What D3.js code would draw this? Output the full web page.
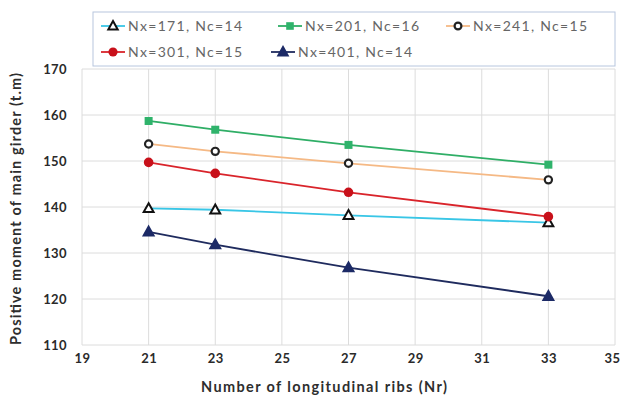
<!DOCTYPE html>
<html>
<head>
<meta charset="utf-8">
<script src="https://cdn.jsdelivr.net/npm/d3@7"></script>
<style>
  body { margin: 0; background: #fff; }
  svg { display: block; font-family: Lato, "Open Sans", sans-serif; }
</style>
</head>
<body>
<svg id="chart" width="621" height="407"></svg>
<script>
// Data
const ribs = [21, 23, 27, 33];
const xTicks = [19, 21, 23, 25, 27, 29, 31, 33, 35];
const yTicks = [110, 120, 130, 140, 150, 160, 170];

const nx171 = [139.7, 139.4, 138.2, 136.6];
const nx201 = [158.7, 156.8, 153.5, 149.2];
const nx241 = [153.7, 152.1, 149.5, 145.9];
const nx301 = [149.7, 147.3, 143.2, 137.9];
const nx401 = [134.6, 131.8, 126.8, 120.6];

const seriesNames = ["Nx=171, Nc=14", "Nx=201, Nc=16", "Nx=241, Nc=15", "Nx=301, Nc=15", "Nx=401, Nc=14"];

const series = [
    { name: seriesNames[0], values: nx171, line: "#39c6e6", marker: "triOpen", mColor: "#111" },
    { name: seriesNames[1], values: nx201, line: "#2fae66", marker: "square", mColor: "#2fb36b" },
    { name: seriesNames[2], values: nx241, line: "#f5b985", marker: "circleOpen", mColor: "#222" },
    { name: seriesNames[3], values: nx301, line: "#d9242b", marker: "circle", mColor: "#c8101a" },
    { name: seriesNames[4], values: nx401, line: "#1f2b5e", marker: "triFilled", mColor: "#1c2a66" },
];

const margin = { top: 69, right: 6, bottom: 62, left: 82 };
const width = 621, height = 407;

const $svg = d3.select("#chart");

const x = d3.scaleLinear()
  .domain([19, 35])
  .range([margin.left, width - margin.right]);

const y = d3.scaleLinear()
  .domain([110, 170])
  .range([height - margin.bottom, margin.top]);

// Grid
const $grid = $svg.append("g");
$grid.selectAll("line.v")
  .data(xTicks)
  .join("line")
    .attr("class", "v")
    .attr("x1", d => x(d)).attr("x2", d => x(d))
    .attr("y1", y(170)).attr("y2", y(110))
    .attr("stroke", "#dcdcdc");
$grid.selectAll("line.h")
  .data(yTicks)
  .join("line")
    .attr("class", "h")
    .attr("x1", x(19)).attr("x2", x(35))
    .attr("y1", d => y(d)).attr("y2", d => y(d))
    .attr("stroke", "#dcdcdc");

// Axes (labels only)
const xAxis = d3.axisBottom(x).tickValues(xTicks).tickSize(0).tickPadding(9);
const yAxis = d3.axisLeft(y).tickValues(yTicks).tickSize(0).tickPadding(15);

const $xAxis = $svg.append("g")
  .attr("transform", `translate(0,${y(110)})`)
  .call(xAxis);
const $yAxis = $svg.append("g")
  .attr("transform", `translate(${x(19)},0)`)
  .call(yAxis);

[$xAxis, $yAxis].forEach($a => {
    $a.select(".domain").remove();
    $a.selectAll("text")
      .attr("font-family", "Lato, sans-serif")
      .attr("font-size", 13)
      .attr("font-weight", "bold")
      .attr("letter-spacing", 0.4)
      .attr("fill", "#2a2a2a");
});

// last x label sits against the right edge of the image
$xAxis.selectAll(".tick text")
  .filter(d => d === 35)
  .attr("text-anchor", "end")
  .attr("dx", 5);

// Axis titles
$svg.append("text")
  .attr("x", 324).attr("y", 392)
  .attr("text-anchor", "middle")
  .attr("font-size", 14.5).attr("font-weight", "bold").attr("fill", "#2e2e2e")
  .attr("textLength", 246).attr("lengthAdjust", "spacing")
  .text("Number of longitudinal ribs (Nr)");

$svg.append("text")
  .attr("transform", `translate(21,209) rotate(-90)`)
  .attr("text-anchor", "middle")
  .attr("font-size", 14.5).attr("font-weight", "bold").attr("fill", "#2e2e2e")
  .attr("textLength", 272).attr("lengthAdjust", "spacing")
  .text("Positive moment of main girder (t.m)");

// Markers
function drawMarker(sel, type, color, size) {
    const s = size || 1;
    if (type === "triOpen" || type === "triFilled") {
        const r = 5.2 * s;
        sel.append("path")
          .attr("d", `M0,${-r}L${r * 0.95},${r * 0.7}L${-r * 0.95},${r * 0.7}Z`)
          .attr("fill", type === "triOpen" ? "#fff" : color)
          .attr("stroke", color)
          .attr("stroke-width", 2);
    } else if (type === "square") {
        sel.append("rect")
          .attr("x", -4 * s).attr("y", -4 * s)
          .attr("width", 8 * s).attr("height", 8 * s)
          .attr("fill", color);
    } else if (type === "circleOpen") {
        sel.append("circle").attr("r", 3.6 * s)
          .attr("fill", "#fff").attr("stroke", color).attr("stroke-width", 2.2);
    } else {
        sel.append("circle").attr("r", 4.8 * s).attr("fill", color);
    }
}

// Series
const line = d3.line()
  .x((d, i) => x(ribs[i]))
  .y(d => y(d));

const $view = $svg.append("g");
series.forEach(s => {
    $view.append("path")
      .attr("d", line(s.values))
      .attr("fill", "none")
      .attr("stroke", s.line)
      .attr("stroke-width", 1.8);
});
series.forEach(s => {
    s.values.forEach((v, i) => {
        const g = $view.append("g").attr("transform", `translate(${x(ribs[i])},${y(v)})`);
        drawMarker(g, s.marker, s.mColor);
    });
});

// Legend
const $legend = $svg.append("g");
$legend.append("rect")
  .attr("x", 93).attr("y", 12)
  .attr("width", 522).attr("height", 54)
  .attr("fill", "#fff")
  .attr("stroke", "#b7c6de");

const legendPos = [
    [113, 26], [290, 26], [458, 26],
    [113, 52], [283, 52]
];
series.forEach((s, i) => {
    const [lx, ly] = legendPos[i];
    const g = $legend.append("g").attr("transform", `translate(${lx},${ly})`);
    g.append("line")
      .attr("x1", -12).attr("x2", 12)
      .attr("stroke", s.line).attr("stroke-width", 1.8);
    drawMarker(g, s.marker, s.mColor, 0.95);
    g.append("text")
      .attr("x", 15).attr("y", 5)
      .attr("font-size", 14)
      .attr("fill", "#666")
      .attr("textLength", 114).attr("lengthAdjust", "spacing")
      .text(s.name);
});
</script>
</body>
</html>
